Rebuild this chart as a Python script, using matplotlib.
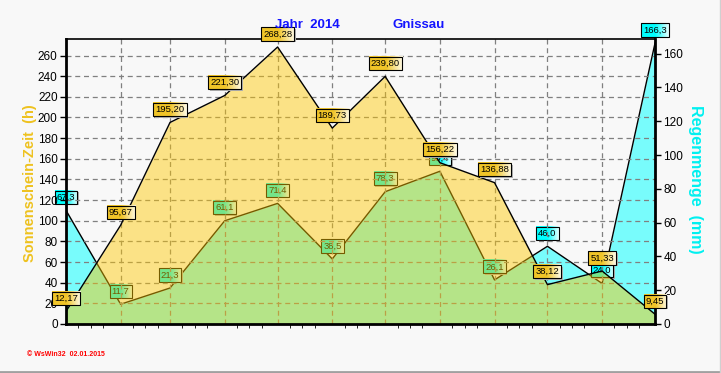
import numpy as np
import pandas as pd
import matplotlib
matplotlib.use('Agg')
import matplotlib.pyplot as plt
import matplotlib.dates as mdates
from matplotlib.image import BboxImage
from matplotlib.transforms import Bbox, IdentityTransform
from matplotlib.colors import LinearSegmentedColormap

# data
months = ['Jan', 'Feb', 'Mrz', 'Apr', 'Mai', 'Jun', 'Jul', 'Aug', 'Sep', 'Okt', 'Nov', 'Dez']
dates = pd.date_range('2014-01-01', periods=12, freq='MS')
sun_hours = [12.17, 95.67, 195.20, 221.30, 268.28, 189.73, 239.80, 156.22, 136.88, 38.12, 51.33, 9.45]
rain_mm = [67.3, 11.7, 21.3, 61.1, 71.4, 38.5, 78.3, 90.4, 26.1, 46.0, 24.0, 166.3]

BG = '#f8f8f8'
plt.rcParams['font.family'] = ['Liberation Sans', 'DejaVu Sans']

fig = plt.figure(figsize=(7.21, 3.73), dpi=100, facecolor=BG)
ax2 = fig.add_axes([0.0915, 0.1314, 0.817, 0.764])
ax = ax2.twinx()
# sunshine axes on top, rain behind it
ax.set_zorder(ax2.get_zorder() + 1)
ax.patch.set_visible(False)
ax2.set_facecolor(BG)

# rain (right scale) - behind
ax2.fill_between(dates, rain_mm, 0, color='#78fcfc', lw=0, zorder=1)
ax2.plot(dates, rain_mm, color='black', lw=1, zorder=2)

# sunshine (left scale) - semi transparent on top
ax.fill_between(dates, sun_hours, 0, color='#ffc800', alpha=0.46, lw=0, zorder=2)
ax.plot(dates, sun_hours, color='black', lw=1, zorder=3)

ax.yaxis.tick_left()
ax.yaxis.set_label_position('left')
ax2.yaxis.tick_right()
ax2.yaxis.set_label_position('right')

ax.set_ylim(0, 276)
ax2.set_ylim(0, 168.7)
ax.set_xlim(dates[0], dates[-1])
ax.set_yticks(np.arange(0, 261, 20))
ax2.set_yticks(np.arange(0, 161, 20))
ax2.set_xticks(dates)
ax2.set_xticklabels(months)
ax2.xaxis.set_minor_locator(mdates.DayLocator(bymonthday=[8, 15, 22]))
ax.set_xticks([])

ax.set_axisbelow(True)
ax.grid(axis='y', color='#808080', ls=(0, (4, 3)), lw=0.9, zorder=0)
for d in dates:
    ax.axvline(d, color='#808080', ls=(0, (4, 3)), lw=0.9, zorder=0)

for a in (ax, ax2):
    a.tick_params(labelsize=8.5, length=4, width=1, colors='black', pad=2)
    a.tick_params(which='minor', length=3)
    for s in a.spines.values():
        s.set_visible(False)
for side, w in [('left', 2), ('right', 2), ('bottom', 2), ('top', 1.2)]:
    ax.spines[side].set_visible(True)
    ax.spines[side].set_linewidth(w)

# value labels (gradient boxes filled in after layout)
labels = []
def value_label(a, x, y, txt, c0, c1, z):
    t = a.annotate(txt, (x, y), xytext=(0, 13), textcoords='offset pixels',
                   ha='center', va='center', fontsize=6.8, color='black',
                   zorder=z, annotation_clip=False,
                   bbox=dict(boxstyle='square,pad=0.22', fc='none', ec='black', lw=0.8))
    labels.append((a, t, c0, c1, z))

for d, v in zip(dates, rain_mm):
    value_label(ax2, d, v, f'{v:.1f}'.replace('.', ','), '#00ffff', '#e8ffff', 5)
for d, v in zip(dates, sun_hours):
    value_label(ax, d, v, f'{v:.2f}'.replace('.', ','), '#f0c428', '#fffbe8', 6)

# titles and axis names
fig.text(0.427, 0.925, 'Jahr  2014', color='#1414ff', fontsize=9.5, fontweight='bold', ha='center')
fig.text(0.58, 0.925, 'Gnissau', color='#1414ff', fontsize=9.5, fontweight='bold', ha='center')
fig.text(0.042, 0.51, 'Sonnenschein-Zeit  (h)', color='#eec21f', fontsize=10.5, fontweight='bold',
         rotation=90, ha='center', va='center')
fig.text(0.965, 0.52, 'Regenmenge  (mm)', color='#00f0f0', fontsize=11.5, fontweight='bold',
         rotation=270, ha='center', va='center')
fig.text(0.037, 0.045, '© WsWin32  02.01.2015', color='red', fontsize=5, fontweight='bold')

# panel edge
fig.add_artist(plt.Line2D([0, 1], [0.004, 0.004], color='#a0a0a0', lw=2, transform=fig.transFigure))
fig.add_artist(plt.Line2D([0.998, 0.998], [0, 1], color='#d0d0d0', lw=1, transform=fig.transFigure))

# gradient fill and shadow behind each label box
fig.canvas.draw()
renderer = fig.canvas.get_renderer()
grad = np.linspace(0, 1, 64).reshape(1, -1)
for a, t, c0, c1, z in labels:
    bb = t.get_bbox_patch().get_window_extent(renderer)
    shadow = plt.Rectangle((bb.x0 + 1.5, bb.y0 - 1.5), bb.width, bb.height, transform=IdentityTransform(),
                           fc='#b0b0b0', ec='none', zorder=z - 0.2, clip_on=False)
    a.add_artist(shadow)
    img = BboxImage(Bbox.from_extents(bb.x0, bb.y0, bb.x1, bb.y1),
                    cmap=LinearSegmentedColormap.from_list('g', [c0, c0, c1]), interpolation='bilinear',
                    zorder=z - 0.1)
    img.set_data(grad)
    img.set_clip_on(False)
    a.add_artist(img)

fig.savefig('out.png', dpi=100, facecolor=BG)
